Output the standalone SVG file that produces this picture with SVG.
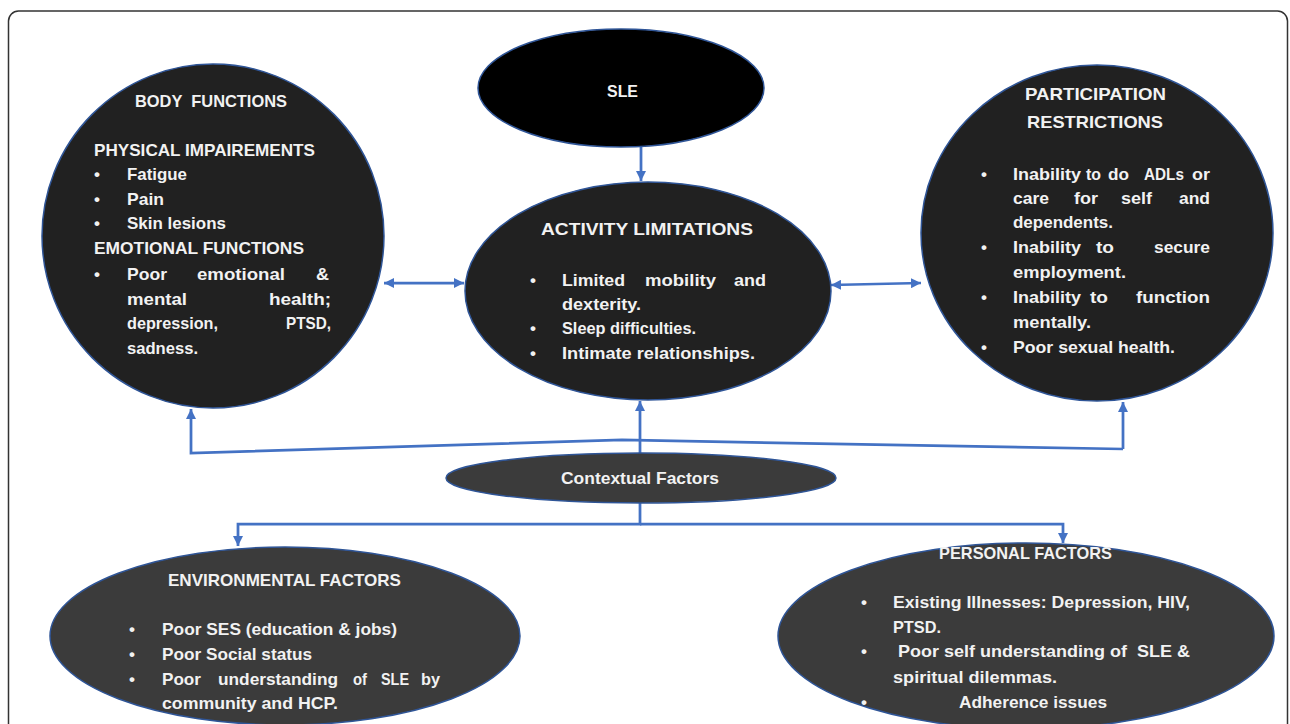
<svg xmlns="http://www.w3.org/2000/svg" width="1290" height="724" viewBox="0 0 1290 724">
<style>
.t{font-family:"Liberation Sans",Arial,sans-serif;font-weight:bold;font-size:17px;fill:#f2f2f2}
.b{font-family:"Liberation Sans",Arial,sans-serif;font-weight:bold;font-size:17px;fill:#f2f2f2;text-anchor:middle}
.c{stroke:#4472c4;stroke-width:2.75;fill:none}
.n0{fill:#000;stroke:#2f5597;stroke-width:1.5}
.n1{fill:#212121;stroke:#2f5597;stroke-width:1.5}
.n2{fill:#3b3b3b;stroke:#2f5597;stroke-width:1.5}
</style>
<defs>
<marker id="ah" viewBox="0 0 10 10" refX="10" refY="5" markerWidth="10" markerHeight="10" markerUnits="userSpaceOnUse" orient="auto-start-reverse">
<path d="M0,0 L10,5 L0,10 z" fill="#4472c4"/>
</marker>
</defs>
<rect x="0" y="0" width="1290" height="724" fill="#fff"/>
<rect x="8.5" y="11" width="1279" height="740" rx="10" fill="#fff" stroke="#333" stroke-width="1.5"/>

<g id="connectors">
<line class="c" x1="641" y1="147" x2="641" y2="181" marker-end="url(#ah)"/>
<line class="c" x1="384" y1="283" x2="464" y2="283" marker-start="url(#ah)" marker-end="url(#ah)"/>
<line class="c" x1="831" y1="285" x2="921" y2="283" marker-start="url(#ah)" marker-end="url(#ah)"/>
<line class="c" x1="640" y1="453" x2="640" y2="401" marker-end="url(#ah)"/>
<polyline class="c" points="1123,449 622,440 191,453 191,409" marker-end="url(#ah)"/>
<line class="c" x1="1123" y1="449" x2="1123" y2="402" marker-end="url(#ah)"/>
<polyline class="c" points="640,503 640,524 238,524 238,546" marker-end="url(#ah)"/>
<polyline class="c" points="640,524 1063,524 1063,543" marker-end="url(#ah)"/>
</g>

<g id="sle">
<ellipse class="n0" cx="621" cy="88" rx="143" ry="59"/>
<text class="t" x="607" y="97" font-size="18" textLength="31" lengthAdjust="spacingAndGlyphs">SLE</text>
</g>

<g id="body-functions">
<ellipse class="n1" cx="213" cy="236" rx="171" ry="172"/>
<text class="t" x="135" y="107" textLength="152" lengthAdjust="spacingAndGlyphs" xml:space="preserve">BODY  FUNCTIONS</text>
<text class="t" x="94" y="156" textLength="221" lengthAdjust="spacingAndGlyphs">PHYSICAL IMPAIREMENTS</text>
<text class="b" x="97" y="180">•</text>
<text class="t" x="127" y="180" textLength="60" lengthAdjust="spacingAndGlyphs">Fatigue</text>
<text class="b" x="97" y="205">•</text>
<text class="t" x="127" y="205" textLength="37" lengthAdjust="spacingAndGlyphs">Pain</text>
<text class="b" x="97" y="229">•</text>
<text class="t" x="127" y="229" textLength="99" lengthAdjust="spacingAndGlyphs">Skin lesions</text>
<text class="t" x="94" y="254" textLength="210" lengthAdjust="spacingAndGlyphs">EMOTIONAL FUNCTIONS</text>
<text class="b" x="97" y="280">•</text>
<text class="t" x="127" y="280" textLength="40" lengthAdjust="spacingAndGlyphs">Poor</text>
<text class="t" x="197" y="280" textLength="88" lengthAdjust="spacingAndGlyphs">emotional</text>
<text class="t" x="316" y="280" textLength="13" lengthAdjust="spacingAndGlyphs">&amp;</text>
<text class="t" x="127" y="305" textLength="60" lengthAdjust="spacingAndGlyphs">mental</text>
<text class="t" x="269" y="305" textLength="62" lengthAdjust="spacingAndGlyphs">health;</text>
<text class="t" x="127" y="329" textLength="91" lengthAdjust="spacingAndGlyphs">depression,</text>
<text class="t" x="286" y="329" textLength="45" lengthAdjust="spacingAndGlyphs">PTSD,</text>
<text class="t" x="127" y="354" textLength="71" lengthAdjust="spacingAndGlyphs">sadness.</text>
</g>

<g id="activity-limitations">
<ellipse class="n1" cx="648" cy="291" rx="183" ry="109"/>
<text class="t" x="541" y="235" textLength="212" lengthAdjust="spacingAndGlyphs">ACTIVITY LIMITATIONS</text>
<text class="b" x="533" y="286">•</text>
<text class="t" x="562" y="286" textLength="63" lengthAdjust="spacingAndGlyphs">Limited</text>
<text class="t" x="645" y="286" textLength="71" lengthAdjust="spacingAndGlyphs">mobility</text>
<text class="t" x="734" y="286" textLength="32" lengthAdjust="spacingAndGlyphs">and</text>
<text class="t" x="562" y="310" textLength="79" lengthAdjust="spacingAndGlyphs">dexterity.</text>
<text class="b" x="533" y="334">•</text>
<text class="t" x="562" y="334" textLength="134" lengthAdjust="spacingAndGlyphs">Sleep difficulties.</text>
<text class="b" x="533" y="359">•</text>
<text class="t" x="562" y="359" textLength="193" lengthAdjust="spacingAndGlyphs">Intimate relationships.</text>
</g>

<g id="participation-restrictions">
<ellipse class="n1" cx="1097" cy="233" rx="176" ry="168"/>
<text class="t" x="1025" y="100" textLength="141" lengthAdjust="spacingAndGlyphs">PARTICIPATION</text>
<text class="t" x="1027" y="128" textLength="136" lengthAdjust="spacingAndGlyphs">RESTRICTIONS</text>
<text class="b" x="984" y="180">•</text>
<text class="t" x="1013" y="180" textLength="68" lengthAdjust="spacingAndGlyphs">Inability</text>
<text class="t" x="1086" y="180" textLength="15" lengthAdjust="spacingAndGlyphs">to</text>
<text class="t" x="1108" y="180" textLength="21" lengthAdjust="spacingAndGlyphs">do</text>
<text class="t" x="1144" y="180" textLength="40" lengthAdjust="spacingAndGlyphs">ADLs</text>
<text class="t" x="1192" y="180" textLength="18" lengthAdjust="spacingAndGlyphs">or</text>
<text class="t" x="1013" y="204" textLength="36" lengthAdjust="spacingAndGlyphs">care</text>
<text class="t" x="1074" y="204" textLength="24" lengthAdjust="spacingAndGlyphs">for</text>
<text class="t" x="1121" y="204" textLength="31" lengthAdjust="spacingAndGlyphs">self</text>
<text class="t" x="1179" y="204" textLength="31" lengthAdjust="spacingAndGlyphs">and</text>
<text class="t" x="1013" y="228" textLength="100" lengthAdjust="spacingAndGlyphs">dependents.</text>
<text class="b" x="984" y="253">•</text>
<text class="t" x="1013" y="253" textLength="68" lengthAdjust="spacingAndGlyphs">Inability</text>
<text class="t" x="1096" y="253" textLength="18" lengthAdjust="spacingAndGlyphs">to</text>
<text class="t" x="1154" y="253" textLength="56" lengthAdjust="spacingAndGlyphs">secure</text>
<text class="t" x="1013" y="278" textLength="113" lengthAdjust="spacingAndGlyphs">employment.</text>
<text class="b" x="984" y="303">•</text>
<text class="t" x="1013" y="303" textLength="68" lengthAdjust="spacingAndGlyphs">Inability</text>
<text class="t" x="1090" y="303" textLength="18" lengthAdjust="spacingAndGlyphs">to</text>
<text class="t" x="1136" y="303" textLength="74" lengthAdjust="spacingAndGlyphs">function</text>
<text class="t" x="1013" y="328" textLength="78" lengthAdjust="spacingAndGlyphs">mentally.</text>
<text class="b" x="984" y="353">•</text>
<text class="t" x="1013" y="353" textLength="162" lengthAdjust="spacingAndGlyphs">Poor sexual health.</text>
</g>

<g id="contextual-factors">
<ellipse class="n2" cx="641" cy="478" rx="195" ry="25"/>
<text class="t" x="561" y="484" textLength="158" lengthAdjust="spacingAndGlyphs">Contextual Factors</text>
</g>

<g id="environmental-factors">
<ellipse class="n2" cx="285" cy="636" rx="235" ry="89"/>
<text class="t" x="168" y="586" textLength="233" lengthAdjust="spacingAndGlyphs">ENVIRONMENTAL FACTORS</text>
<text class="b" x="132" y="635">•</text>
<text class="t" x="162" y="635" textLength="235" lengthAdjust="spacingAndGlyphs">Poor SES (education &amp; jobs)</text>
<text class="b" x="132" y="660">•</text>
<text class="t" x="162" y="660" textLength="150" lengthAdjust="spacingAndGlyphs">Poor Social status</text>
<text class="b" x="132" y="685">•</text>
<text class="t" x="162" y="685" textLength="39" lengthAdjust="spacingAndGlyphs">Poor</text>
<text class="t" x="218" y="685" textLength="120" lengthAdjust="spacingAndGlyphs">understanding</text>
<text class="t" x="353" y="685" textLength="14" lengthAdjust="spacingAndGlyphs">of</text>
<text class="t" x="381" y="685" textLength="28" lengthAdjust="spacingAndGlyphs">SLE</text>
<text class="t" x="421" y="685" textLength="19" lengthAdjust="spacingAndGlyphs">by</text>
<text class="t" x="162" y="709" textLength="176" lengthAdjust="spacingAndGlyphs">community and HCP.</text>
</g>

<g id="personal-factors">
<ellipse class="n2" cx="1026" cy="636" rx="248" ry="93"/>
<text class="t" x="939" y="559" textLength="173" lengthAdjust="spacingAndGlyphs">PERSONAL FACTORS</text>
<text class="b" x="864" y="608">•</text>
<text class="t" x="893" y="608" textLength="297" lengthAdjust="spacingAndGlyphs">Existing Illnesses: Depression, HIV,</text>
<text class="t" x="893" y="633" textLength="48" lengthAdjust="spacingAndGlyphs">PTSD.</text>
<text class="b" x="864" y="657">•</text>
<text class="t" x="898" y="657" textLength="292" lengthAdjust="spacingAndGlyphs" xml:space="preserve">Poor self understanding of  SLE &amp;</text>
<text class="t" x="893" y="683" textLength="164" lengthAdjust="spacingAndGlyphs">spiritual dilemmas.</text>
<text class="b" x="864" y="708">•</text>
<text class="t" x="959" y="708" textLength="148" lengthAdjust="spacingAndGlyphs">Adherence issues</text>
</g>
</svg>
